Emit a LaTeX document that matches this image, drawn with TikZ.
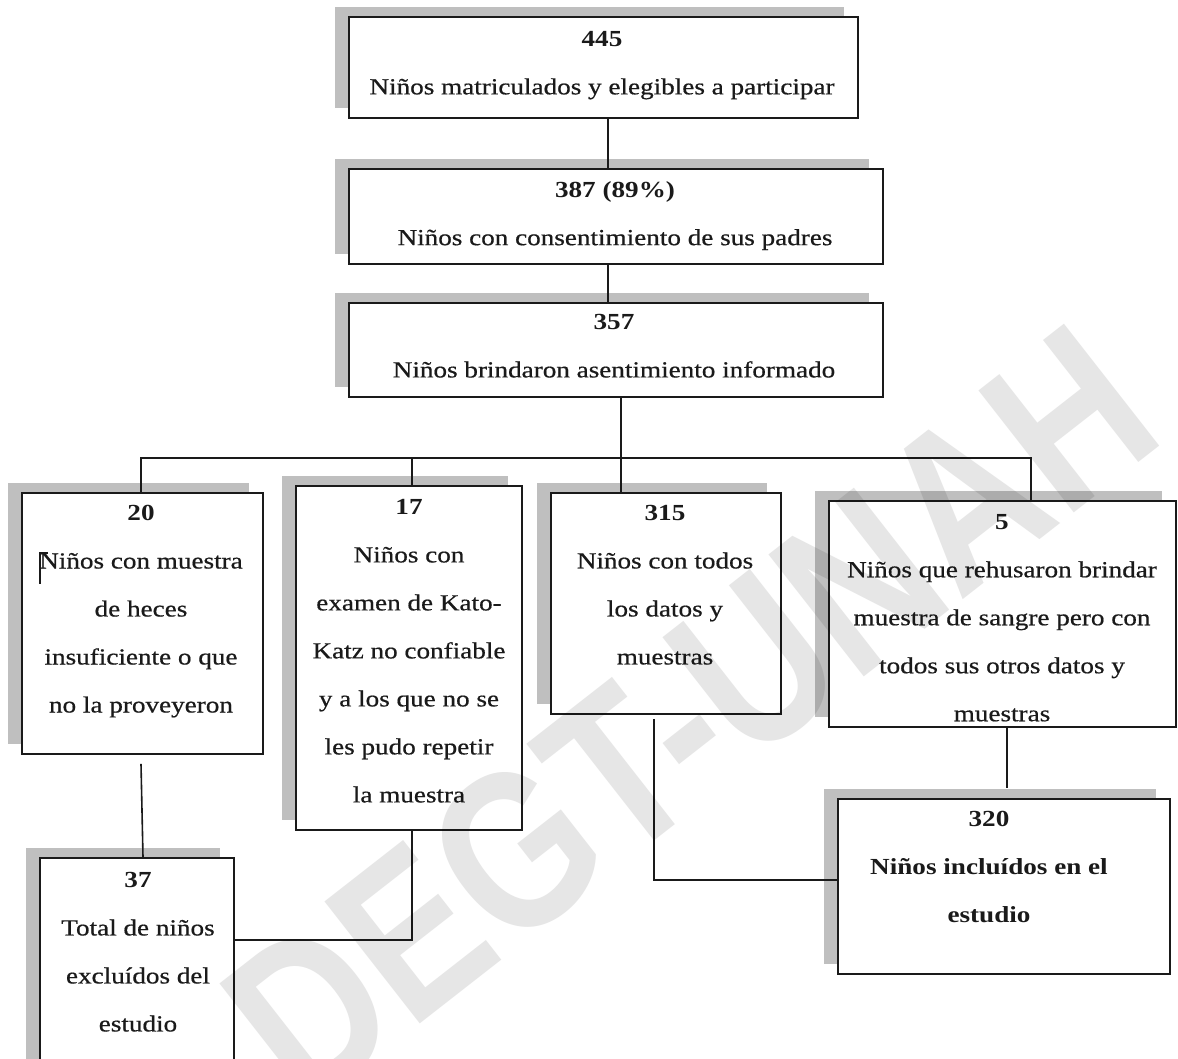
\documentclass[tikz,border=0pt]{standalone}
\usepackage{fontspec}
\setmainfont[FakeStretch=1.18, UprightFeatures={FakeBold=0.6}]{Liberation Serif}
\newfontfamily\wmfont{Liberation Sans}
\usetikzlibrary{shadows,calc}
\definecolor{shade}{HTML}{BFBFBF}
\definecolor{ink}{HTML}{1A1A1A}
\definecolor{wmgray}{HTML}{E6E6E6}

\begin{document}
\begin{tikzpicture}[x=1pt,y=-1pt,
  box/.style={draw=ink, line width=1.8pt, fill=white, inner sep=0pt,
    drop shadow={shadow xshift=-14pt, shadow yshift=10pt, fill=shade, opacity=1}},
  txt/.style={anchor=north, align=center, inner sep=0pt, text=ink,
    font=\fontsize{23}{48}\selectfont},
  link/.style={draw=ink, line width=1.6pt},
  wmtext/.style={font=\wmfont\bfseries\fontsize{225}{225}\selectfont, text=wmgray, inner sep=0pt}]

\useasboundingbox (0,0) rectangle (1178,1059);
\fill[white] (0,0) rectangle (1178,1059);

% column and row guides for the connectors
\coordinate (x141) at (141,0);
\coordinate (x143) at (143,0);
\coordinate (x412) at (412,0);
\coordinate (x608) at (608,0);
\coordinate (x621) at (621,0);
\coordinate (x654) at (654,0);
\coordinate (x1007) at (1007,0);
\coordinate (x1031) at (1031,0);
\coordinate (bus) at (0,458);
\coordinate (y880) at (0,880);
\coordinate (y940) at (0,940);

% boxes
\node[box, minimum width=509, minimum height=101] (b445) at (603.5,67.5) {};
\node[box, minimum width=534, minimum height=95]  (b387) at (616,216.5) {};
\node[box, minimum width=534, minimum height=94]  (b357) at (616,350) {};
\node[box, minimum width=241, minimum height=261] (b20)  at (142.5,623.5) {};
\node[box, minimum width=226, minimum height=344] (b17)  at (409,658) {};
\node[box, minimum width=230, minimum height=221] (b315) at (666,603.5) {};
\node[box, minimum width=347, minimum height=226] (b5)   at (1002.5,614) {};
\node[box, minimum width=332, minimum height=175] (b320) at (1004,886.5) {};
\node[box, minimum width=194, minimum height=212] (b37)  at (137,964) {};

% labels
\node[txt] (t445) at (602,31) {\textbf{445}\\Niños matriculados y elegibles a participar};
\node[txt] (t387) at (615,181) {\textbf{387 (89\%)}\\Niños con consentimiento de sus padres};
\node[txt] (t357) at (614,314) {\textbf{357}\\Niños brindaron asentimiento informado};
\node[txt] (t20) at (141,505) {\textbf{20}\\Niños con muestra\\de heces\\insuficiente o que\\no la proveyeron};
\node[txt] (t17) at (409,499) {\textbf{17}\\Niños con\\examen de Kato-\\Katz no confiable\\y a los que no se\\les pudo repetir\\la muestra};
\node[txt] (t315) at (665,505) {\textbf{315}\\Niños con todos\\los datos y\\muestras};
\node[txt] (t5) at (1002,514) {\textbf{5}\\Niños que rehusaron brindar\\muestra de sangre pero con\\todos sus otros datos y\\muestras};
\node[txt, font=\fontsize{23}{48}\selectfont\bfseries] (t320) at (989,811) {320\\Niños incluídos en el\\estudio};
\node[txt] (t37) at (138,872) {\textbf{37}\\Total de niños\\excluídos del\\estudio};

% stray cursor bracket beside the first line of the 20 box
\draw[ink, line width=1.1pt] (48,553) -- (40,553) -- (40,584);

% connectors
\draw[link] (b445.south -| x608) -- (b387.north -| x608);
\draw[link] (b387.south -| x608) -- (b357.north -| x608);
\draw[link] (b357.south -| x621) -- (b315.north -| x621);
\draw[link] (b20.north -| x141) -- (x141 |- bus) -- (x1031 |- bus) -- (b5.north -| x1031);
\draw[link] (x412 |- bus) -- (b17.north -| x412);
\draw[link] ($(b20.south -| x141)+(0,9)$) -- (b37.north -| x143);
\draw[link] (b17.south -| x412) |- (b37.east |- y940);
\draw[link] ($(b315.south -| x654)+(0,4)$) |- (b320.west |- y880);
\draw[link] (b5.south -| x1007) -- ($(b320.north -| x1007)+(0,-10)$);

% watermark, condensed sans
\begin{scope}[blend mode=multiply]
\node[wmtext, rotate=38] (wm) at (690,715) {\scalebox{0.82}[1]{DEGT-UNAH}};
\end{scope}
\end{tikzpicture}
\end{document}
